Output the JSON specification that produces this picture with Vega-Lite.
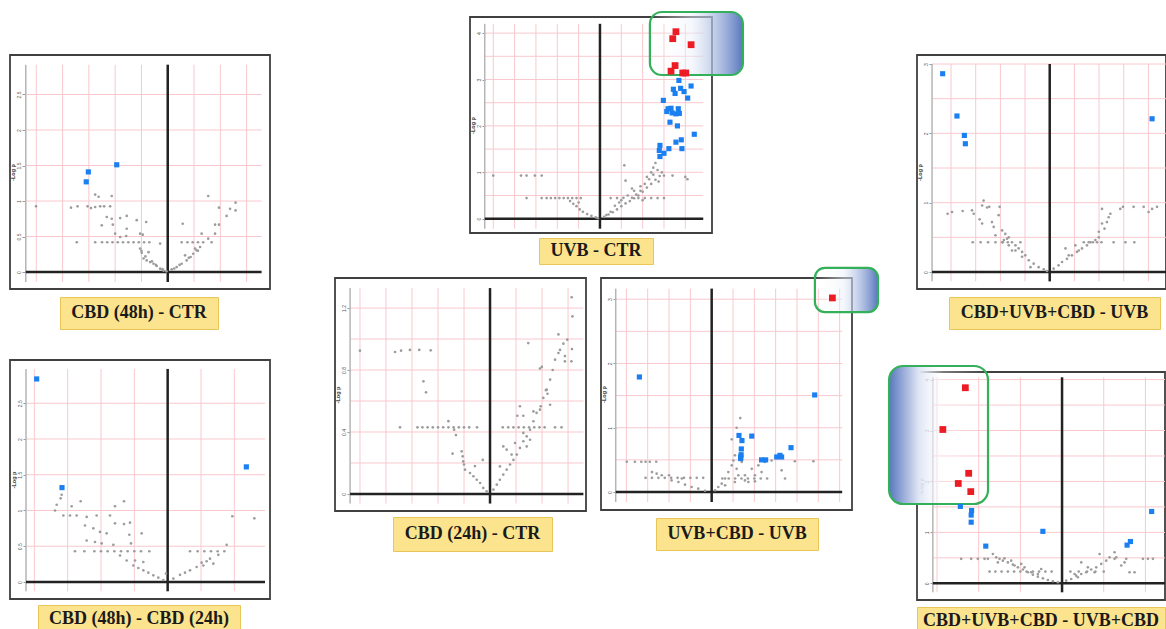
{
"$schema": "https://vega.github.io/schema/vega-lite/v6.json",
"background": "white",
"padding": {"left": 9, "top": 9, "right": 0, "bottom": 0},
"config": {"font": "Liberation Sans"},
"datasets": {
"pA": [{"x":-5.01,"y":0.925,"c":"g"},{"x":-3.68,"y":0.906,"c":"g"},{"x":-3.43,"y":0.925,"c":"g"},{"x":-3.05,"y":0.925,"c":"g"},{"x":-2.92,"y":0.9,"c":"g"},{"x":-2.76,"y":1.09,"c":"g"},{"x":-2.63,"y":1.06,"c":"g"},{"x":-2.76,"y":0.915,"c":"g"},{"x":-2.57,"y":0.925,"c":"g"},{"x":-2.42,"y":0.925,"c":"g"},{"x":-2.19,"y":0.925,"c":"g"},{"x":-2.13,"y":1.07,"c":"g"},{"x":-2.51,"y":0.657,"c":"g"},{"x":-2.32,"y":0.775,"c":"g"},{"x":-2.13,"y":0.75,"c":"g"},{"x":-2.09,"y":0.667,"c":"g"},{"x":-1.81,"y":0.76,"c":"g"},{"x":-1.56,"y":0.79,"c":"g"},{"x":-1.56,"y":0.61,"c":"g"},{"x":-1.18,"y":0.73,"c":"g"},{"x":-0.82,"y":0.704,"c":"g"},{"x":-2.0,"y":0.54,"c":"g"},{"x":-1.81,"y":0.493,"c":"g"},{"x":-1.58,"y":0.507,"c":"g"},{"x":-3.46,"y":0.42,"c":"g"},{"x":-2.76,"y":0.42,"c":"g"},{"x":-2.5,"y":0.42,"c":"g"},{"x":-2.3,"y":0.42,"c":"g"},{"x":-2.1,"y":0.42,"c":"g"},{"x":-1.9,"y":0.42,"c":"g"},{"x":-1.7,"y":0.42,"c":"g"},{"x":-1.5,"y":0.42,"c":"g"},{"x":-1.3,"y":0.42,"c":"g"},{"x":-1.1,"y":0.42,"c":"g"},{"x":-0.9,"y":0.42,"c":"g"},{"x":-0.7,"y":0.42,"c":"g"},{"x":-1.05,"y":0.54,"c":"g"},{"x":-0.95,"y":0.526,"c":"g"},{"x":-1.05,"y":0.33,"c":"g"},{"x":-0.99,"y":0.27,"c":"g"},{"x":-0.92,"y":0.19,"c":"g"},{"x":-0.8,"y":0.164,"c":"g"},{"x":-0.67,"y":0.14,"c":"g"},{"x":-0.54,"y":0.117,"c":"g"},{"x":-0.42,"y":0.085,"c":"g"},{"x":-0.29,"y":0.047,"c":"g"},{"x":-0.16,"y":0.019,"c":"g"},{"x":-0.73,"y":0.28,"c":"g"},{"x":-0.29,"y":0.4,"c":"g"},{"x":-1.0,"y":0.3,"c":"g"},{"x":-0.85,"y":0.22,"c":"g"},{"x":-0.6,"y":0.15,"c":"g"},{"x":-0.45,"y":0.1,"c":"g"},{"x":-0.2,"y":0.04,"c":"g"},{"x":-0.05,"y":0.01,"c":"g"},{"x":0.15,"y":0.038,"c":"g"},{"x":0.34,"y":0.07,"c":"g"},{"x":0.53,"y":0.117,"c":"g"},{"x":0.72,"y":0.164,"c":"g"},{"x":0.87,"y":0.211,"c":"g"},{"x":0.97,"y":0.258,"c":"g"},{"x":1.1,"y":0.305,"c":"g"},{"x":1.23,"y":0.352,"c":"g"},{"x":1.35,"y":0.42,"c":"g"},{"x":1.29,"y":0.54,"c":"g"},{"x":1.54,"y":0.47,"c":"g"},{"x":1.67,"y":0.42,"c":"g"},{"x":0.53,"y":0.42,"c":"g"},{"x":0.75,"y":0.42,"c":"g"},{"x":0.95,"y":0.42,"c":"g"},{"x":1.15,"y":0.42,"c":"g"},{"x":0.57,"y":0.68,"c":"g"},{"x":1.8,"y":0.54,"c":"g"},{"x":1.8,"y":0.667,"c":"g"},{"x":1.95,"y":0.667,"c":"g"},{"x":1.95,"y":0.906,"c":"g"},{"x":1.54,"y":1.07,"c":"g"},{"x":2.24,"y":0.79,"c":"g"},{"x":2.37,"y":0.89,"c":"g"},{"x":2.58,"y":0.868,"c":"g"},{"x":2.58,"y":0.977,"c":"g"},{"x":0.66,"y":0.235,"c":"g"},{"x":1.04,"y":0.33,"c":"g"},{"x":0.25,"y":0.05,"c":"g"},{"x":0.45,"y":0.1,"c":"g"},{"x":0.8,"y":0.2,"c":"g"},{"x":1.15,"y":0.3,"c":"g"},{"x":-3.02,"y":1.41,"c":"b"},{"x":-3.1,"y":1.27,"c":"b"},{"x":-1.94,"y":1.51,"c":"b"}],
"pB": [{"x":-5.0,"y":0.93,"c":"g"},{"x":-3.7,"y":0.93,"c":"g"},{"x":-3.44,"y":0.93,"c":"g"},{"x":-3.05,"y":0.93,"c":"g"},{"x":-2.73,"y":0.93,"c":"g"},{"x":-3.44,"y":0.445,"c":"g"},{"x":-2.73,"y":0.445,"c":"g"},{"x":-2.5,"y":0.445,"c":"g"},{"x":-2.3,"y":0.445,"c":"g"},{"x":-2.1,"y":0.445,"c":"g"},{"x":-1.9,"y":0.445,"c":"g"},{"x":-1.7,"y":0.445,"c":"g"},{"x":-1.5,"y":0.445,"c":"g"},{"x":-1.3,"y":0.445,"c":"g"},{"x":-1.1,"y":0.445,"c":"g"},{"x":-0.9,"y":0.445,"c":"g"},{"x":-1.25,"y":0.32,"c":"g"},{"x":-1.1,"y":0.27,"c":"g"},{"x":-0.95,"y":0.2,"c":"g"},{"x":-0.8,"y":0.15,"c":"g"},{"x":-0.6,"y":0.1,"c":"g"},{"x":-0.4,"y":0.06,"c":"g"},{"x":-0.2,"y":0.03,"c":"g"},{"x":-0.1,"y":0.01,"c":"g"},{"x":-1.4,"y":0.38,"c":"g"},{"x":-1.0,"y":0.35,"c":"g"},{"x":0.2,"y":0.04,"c":"g"},{"x":0.4,"y":0.09,"c":"g"},{"x":0.6,"y":0.14,"c":"g"},{"x":0.8,"y":0.2,"c":"g"},{"x":1.0,"y":0.27,"c":"g"},{"x":1.2,"y":0.33,"c":"g"},{"x":1.4,"y":0.38,"c":"g"},{"x":1.6,"y":0.44,"c":"g"},{"x":1.8,"y":0.5,"c":"g"},{"x":2.0,"y":0.58,"c":"g"},{"x":2.2,"y":0.67,"c":"g"},{"x":2.4,"y":0.75,"c":"g"},{"x":2.6,"y":0.84,"c":"g"},{"x":2.8,"y":0.92,"c":"g"},{"x":2.5,"y":0.95,"c":"g"},{"x":2.7,"y":1.05,"c":"g"},{"x":2.6,"y":1.2,"c":"g"},{"x":2.5,"y":1.1,"c":"g"},{"x":1.1,"y":0.45,"c":"g"},{"x":1.3,"y":0.5,"c":"g"},{"x":1.5,"y":0.45,"c":"g"},{"x":1.7,"y":0.52,"c":"g"},{"x":1.9,"y":0.6,"c":"g"},{"x":2.1,"y":0.75,"c":"g"},{"x":2.3,"y":0.85,"c":"g"},{"x":1.2,"y":0.82,"c":"g"},{"x":1.5,"y":0.65,"c":"g"},{"x":0.9,"y":0.35,"c":"g"},{"x":0.7,"y":0.28,"c":"g"},{"x":1.14,"y":1.15,"c":"g"},{"x":0.5,"y":0.445,"c":"g"},{"x":0.8,"y":0.445,"c":"g"},{"x":1.8,"y":0.445,"c":"g"},{"x":2.1,"y":0.445,"c":"g"},{"x":2.4,"y":0.445,"c":"g"},{"x":2.7,"y":0.445,"c":"g"},{"x":3.0,"y":0.445,"c":"g"},{"x":3.0,"y":0.93,"c":"g"},{"x":3.4,"y":0.93,"c":"g"},{"x":4.1,"y":0.85,"c":"g"},{"x":4.0,"y":0.9,"c":"g"},{"x":2.2,"y":0.9,"c":"g"},{"x":2.4,"y":1.0,"c":"g"},{"x":2.9,"y":1.0,"c":"g"},{"x":2.75,"y":0.8,"c":"g"},{"x":1.9,"y":0.7,"c":"g"},{"x":1.6,"y":0.6,"c":"g"},{"x":1.0,"y":0.4,"c":"g"},{"x":0.5,"y":0.15,"c":"g"},{"x":0.3,"y":0.08,"c":"g"},{"x":2.0,"y":0.4,"c":"g"},{"x":3.7,"y":2.98,"c":"b"},{"x":4.27,"y":2.86,"c":"b"},{"x":3.44,"y":2.79,"c":"b"},{"x":3.78,"y":2.81,"c":"b"},{"x":3.94,"y":2.74,"c":"b"},{"x":3.52,"y":2.7,"c":"b"},{"x":4.11,"y":2.6,"c":"b"},{"x":2.97,"y":2.55,"c":"b"},{"x":3.19,"y":2.37,"c":"b"},{"x":3.33,"y":2.38,"c":"b"},{"x":3.67,"y":2.37,"c":"b"},{"x":3.13,"y":2.31,"c":"b"},{"x":3.38,"y":2.28,"c":"b"},{"x":3.56,"y":2.26,"c":"b"},{"x":3.72,"y":2.27,"c":"b"},{"x":3.28,"y":2.08,"c":"b"},{"x":3.63,"y":2.0,"c":"b"},{"x":4.42,"y":1.82,"c":"b"},{"x":3.81,"y":1.7,"c":"b"},{"x":3.56,"y":1.65,"c":"b"},{"x":2.81,"y":1.58,"c":"b"},{"x":2.78,"y":1.47,"c":"b"},{"x":3.23,"y":1.51,"c":"b"},{"x":3.0,"y":1.41,"c":"b"},{"x":3.84,"y":1.51,"c":"b"},{"x":2.81,"y":1.34,"c":"b"},{"x":3.56,"y":4.03,"c":"r"},{"x":3.41,"y":3.88,"c":"r"},{"x":4.27,"y":3.75,"c":"r"},{"x":3.52,"y":3.3,"c":"r"},{"x":3.33,"y":3.18,"c":"r"},{"x":3.88,"y":3.14,"c":"r"},{"x":4.02,"y":3.14,"c":"r"}],
"pC": [{"x":-5.0,"y":0.925,"c":"g"},{"x":-3.65,"y":0.916,"c":"g"},{"x":-3.42,"y":0.925,"c":"g"},{"x":-3.08,"y":0.93,"c":"g"},{"x":-2.72,"y":0.93,"c":"g"},{"x":-2.28,"y":0.927,"c":"g"},{"x":-2.56,"y":0.727,"c":"g"},{"x":-2.46,"y":0.656,"c":"g"},{"x":-3.46,"y":0.43,"c":"g"},{"x":-2.79,"y":0.43,"c":"g"},{"x":-2.6,"y":0.43,"c":"g"},{"x":-2.4,"y":0.43,"c":"g"},{"x":-2.2,"y":0.43,"c":"g"},{"x":-2.0,"y":0.43,"c":"g"},{"x":-1.8,"y":0.43,"c":"g"},{"x":-1.6,"y":0.43,"c":"g"},{"x":-1.4,"y":0.43,"c":"g"},{"x":-1.2,"y":0.43,"c":"g"},{"x":-1.0,"y":0.43,"c":"g"},{"x":-0.8,"y":0.43,"c":"g"},{"x":-0.5,"y":0.43,"c":"g"},{"x":-1.6,"y":0.47,"c":"g"},{"x":-1.38,"y":0.415,"c":"g"},{"x":-1.31,"y":0.38,"c":"g"},{"x":-1.44,"y":0.26,"c":"g"},{"x":-1.09,"y":0.275,"c":"g"},{"x":-1.05,"y":0.243,"c":"g"},{"x":-1.03,"y":0.21,"c":"g"},{"x":-1.0,"y":0.19,"c":"g"},{"x":-0.96,"y":0.157,"c":"g"},{"x":-0.77,"y":0.135,"c":"g"},{"x":-0.64,"y":0.114,"c":"g"},{"x":-0.51,"y":0.092,"c":"g"},{"x":-0.38,"y":0.071,"c":"g"},{"x":-0.26,"y":0.039,"c":"g"},{"x":-0.13,"y":0.017,"c":"g"},{"x":-0.28,"y":0.22,"c":"g"},{"x":-0.58,"y":0.18,"c":"g"},{"x":0.49,"y":0.43,"c":"g"},{"x":0.7,"y":0.43,"c":"g"},{"x":0.9,"y":0.43,"c":"g"},{"x":1.1,"y":0.43,"c":"g"},{"x":1.3,"y":0.43,"c":"g"},{"x":1.5,"y":0.43,"c":"g"},{"x":1.7,"y":0.43,"c":"g"},{"x":1.9,"y":0.43,"c":"g"},{"x":2.1,"y":0.43,"c":"g"},{"x":2.5,"y":0.43,"c":"g"},{"x":2.75,"y":0.43,"c":"g"},{"x":0.13,"y":0.028,"c":"g"},{"x":0.26,"y":0.06,"c":"g"},{"x":0.38,"y":0.092,"c":"g"},{"x":0.51,"y":0.125,"c":"g"},{"x":0.64,"y":0.157,"c":"g"},{"x":0.77,"y":0.19,"c":"g"},{"x":0.9,"y":0.22,"c":"g"},{"x":1.03,"y":0.254,"c":"g"},{"x":1.15,"y":0.297,"c":"g"},{"x":1.28,"y":0.34,"c":"g"},{"x":1.41,"y":0.372,"c":"g"},{"x":1.54,"y":0.415,"c":"g"},{"x":1.67,"y":0.469,"c":"g"},{"x":1.79,"y":0.523,"c":"g"},{"x":1.95,"y":0.566,"c":"g"},{"x":2.05,"y":0.62,"c":"g"},{"x":2.18,"y":0.673,"c":"g"},{"x":2.31,"y":0.738,"c":"g"},{"x":2.41,"y":0.8,"c":"g"},{"x":2.5,"y":0.867,"c":"g"},{"x":2.63,"y":0.91,"c":"g"},{"x":2.69,"y":0.93,"c":"g"},{"x":2.88,"y":0.89,"c":"g"},{"x":2.97,"y":0.996,"c":"g"},{"x":2.63,"y":1.03,"c":"g"},{"x":2.88,"y":0.856,"c":"g"},{"x":3.13,"y":0.856,"c":"g"},{"x":3.15,"y":0.935,"c":"g"},{"x":3.17,"y":1.146,"c":"g"},{"x":3.14,"y":1.27,"c":"g"},{"x":1.47,"y":0.974,"c":"g"},{"x":1.92,"y":0.81,"c":"g"},{"x":1.99,"y":0.82,"c":"g"},{"x":2.15,"y":0.67,"c":"g"},{"x":2.21,"y":0.647,"c":"g"},{"x":2.31,"y":0.576,"c":"g"},{"x":1.15,"y":0.566,"c":"g"},{"x":1.05,"y":0.505,"c":"g"},{"x":1.28,"y":0.505,"c":"g"},{"x":1.67,"y":0.533,"c":"g"},{"x":1.92,"y":0.544,"c":"g"},{"x":0.51,"y":0.307,"c":"g"},{"x":0.64,"y":0.286,"c":"g"},{"x":0.38,"y":0.178,"c":"g"},{"x":0.83,"y":0.254,"c":"g"},{"x":0.96,"y":0.329,"c":"g"},{"x":1.41,"y":0.307,"c":"g"},{"x":1.54,"y":0.35,"c":"g"},{"x":1.28,"y":0.394,"c":"g"},{"x":2.82,"y":0.97,"c":"g"}],
"pD": [{"x":-3.98,"y":0.47,"c":"g"},{"x":-3.6,"y":0.47,"c":"g"},{"x":-3.3,"y":0.47,"c":"g"},{"x":-3.1,"y":0.47,"c":"g"},{"x":-2.9,"y":0.47,"c":"g"},{"x":-2.6,"y":0.47,"c":"g"},{"x":-2.8,"y":0.31,"c":"g"},{"x":-2.58,"y":0.285,"c":"g"},{"x":-3.1,"y":0.22,"c":"g"},{"x":-2.8,"y":0.22,"c":"g"},{"x":-2.5,"y":0.22,"c":"g"},{"x":-2.2,"y":0.22,"c":"g"},{"x":-1.9,"y":0.22,"c":"g"},{"x":-1.6,"y":0.22,"c":"g"},{"x":-1.3,"y":0.22,"c":"g"},{"x":-1.0,"y":0.22,"c":"g"},{"x":-0.7,"y":0.22,"c":"g"},{"x":-0.4,"y":0.22,"c":"g"},{"x":-2.34,"y":0.26,"c":"g"},{"x":-1.88,"y":0.18,"c":"g"},{"x":-1.56,"y":0.156,"c":"g"},{"x":-1.25,"y":0.114,"c":"g"},{"x":-0.94,"y":0.078,"c":"g"},{"x":-0.63,"y":0.052,"c":"g"},{"x":-0.31,"y":0.02,"c":"g"},{"x":-1.4,"y":0.21,"c":"g"},{"x":-2.0,"y":0.26,"c":"g"},{"x":0.16,"y":0.026,"c":"g"},{"x":0.31,"y":0.078,"c":"g"},{"x":0.47,"y":0.13,"c":"g"},{"x":0.63,"y":0.21,"c":"g"},{"x":0.78,"y":0.31,"c":"g"},{"x":0.94,"y":0.415,"c":"g"},{"x":1.02,"y":0.49,"c":"g"},{"x":1.09,"y":0.57,"c":"g"},{"x":0.94,"y":0.82,"c":"g"},{"x":1.34,"y":1.15,"c":"g"},{"x":1.17,"y":1.0,"c":"g"},{"x":1.17,"y":0.36,"c":"g"},{"x":1.56,"y":0.26,"c":"g"},{"x":1.88,"y":0.36,"c":"g"},{"x":2.19,"y":0.415,"c":"g"},{"x":2.5,"y":0.467,"c":"g"},{"x":2.81,"y":0.49,"c":"g"},{"x":3.28,"y":0.337,"c":"g"},{"x":3.44,"y":0.21,"c":"g"},{"x":3.9,"y":0.478,"c":"g"},{"x":4.77,"y":0.478,"c":"g"},{"x":0.5,"y":0.21,"c":"g"},{"x":0.8,"y":0.21,"c":"g"},{"x":1.1,"y":0.21,"c":"g"},{"x":1.4,"y":0.21,"c":"g"},{"x":1.7,"y":0.21,"c":"g"},{"x":2.0,"y":0.21,"c":"g"},{"x":2.3,"y":0.21,"c":"g"},{"x":2.6,"y":0.21,"c":"g"},{"x":0.63,"y":0.104,"c":"g"},{"x":1.09,"y":0.156,"c":"g"},{"x":1.56,"y":0.18,"c":"g"},{"x":2.03,"y":0.26,"c":"g"},{"x":2.34,"y":0.31,"c":"g"},{"x":1.41,"y":0.467,"c":"g"},{"x":1.25,"y":0.26,"c":"g"},{"x":1.72,"y":0.156,"c":"g"},{"x":2.03,"y":0.166,"c":"g"},{"x":-3.39,"y":1.79,"c":"b"},{"x":4.83,"y":1.51,"c":"b"},{"x":1.28,"y":0.88,"c":"b"},{"x":1.42,"y":0.8,"c":"b"},{"x":1.88,"y":0.87,"c":"b"},{"x":1.39,"y":0.67,"c":"b"},{"x":1.38,"y":0.58,"c":"b"},{"x":1.36,"y":0.52,"c":"b"},{"x":2.34,"y":0.5,"c":"b"},{"x":2.53,"y":0.5,"c":"b"},{"x":3.05,"y":0.545,"c":"b"},{"x":3.2,"y":0.57,"c":"b"},{"x":3.28,"y":0.545,"c":"b"},{"x":3.72,"y":0.69,"c":"b"},{"x":1.36,"y":0.545,"c":"b"},{"x":5.66,"y":3.02,"c":"r"}],
"pE": [{"x":-4.14,"y":0.84,"c":"g"},{"x":-3.96,"y":0.865,"c":"g"},{"x":-3.53,"y":0.88,"c":"g"},{"x":-3.15,"y":0.89,"c":"g"},{"x":-3.08,"y":0.84,"c":"g"},{"x":-2.68,"y":1.03,"c":"g"},{"x":-2.74,"y":0.96,"c":"g"},{"x":-2.54,"y":0.93,"c":"g"},{"x":-2.45,"y":0.94,"c":"g"},{"x":-2.03,"y":0.94,"c":"g"},{"x":-2.84,"y":0.76,"c":"g"},{"x":-2.74,"y":0.7,"c":"g"},{"x":-2.34,"y":0.72,"c":"g"},{"x":-2.27,"y":0.65,"c":"g"},{"x":-2.2,"y":0.53,"c":"g"},{"x":-2.07,"y":0.82,"c":"g"},{"x":-3.12,"y":0.43,"c":"g"},{"x":-2.8,"y":0.43,"c":"g"},{"x":-2.5,"y":0.43,"c":"g"},{"x":-2.2,"y":0.43,"c":"g"},{"x":-1.9,"y":0.43,"c":"g"},{"x":-1.7,"y":0.43,"c":"g"},{"x":-1.93,"y":0.6,"c":"g"},{"x":-1.8,"y":0.55,"c":"g"},{"x":-1.66,"y":0.5,"c":"g"},{"x":-1.53,"y":0.43,"c":"g"},{"x":-1.39,"y":0.385,"c":"g"},{"x":-1.26,"y":0.34,"c":"g"},{"x":-1.12,"y":0.29,"c":"g"},{"x":-0.99,"y":0.24,"c":"g"},{"x":-0.85,"y":0.17,"c":"g"},{"x":-0.65,"y":0.12,"c":"g"},{"x":-0.45,"y":0.07,"c":"g"},{"x":-0.24,"y":0.04,"c":"g"},{"x":-0.11,"y":0.014,"c":"g"},{"x":-1.86,"y":0.46,"c":"g"},{"x":-1.66,"y":0.385,"c":"g"},{"x":-1.39,"y":0.31,"c":"g"},{"x":-1.19,"y":0.43,"c":"g"},{"x":-1.53,"y":0.31,"c":"g"},{"x":-1.12,"y":0.22,"c":"g"},{"x":-0.78,"y":0.07,"c":"g"},{"x":-1.93,"y":0.43,"c":"g"},{"x":-1.73,"y":0.48,"c":"g"},{"x":0.16,"y":0.048,"c":"g"},{"x":0.36,"y":0.096,"c":"g"},{"x":0.5,"y":0.144,"c":"g"},{"x":0.7,"y":0.19,"c":"g"},{"x":0.9,"y":0.24,"c":"g"},{"x":1.1,"y":0.29,"c":"g"},{"x":1.31,"y":0.34,"c":"g"},{"x":1.51,"y":0.385,"c":"g"},{"x":1.65,"y":0.43,"c":"g"},{"x":1.85,"y":0.46,"c":"g"},{"x":1.99,"y":0.5,"c":"g"},{"x":0.64,"y":0.34,"c":"g"},{"x":1.04,"y":0.385,"c":"g"},{"x":1.18,"y":0.31,"c":"g"},{"x":1.38,"y":0.43,"c":"g"},{"x":0.77,"y":0.24,"c":"g"},{"x":1.58,"y":0.43,"c":"g"},{"x":1.75,"y":0.43,"c":"g"},{"x":1.92,"y":0.43,"c":"g"},{"x":2.1,"y":0.43,"c":"g"},{"x":2.12,"y":0.91,"c":"g"},{"x":2.22,"y":0.625,"c":"g"},{"x":2.32,"y":0.72,"c":"g"},{"x":2.39,"y":0.79,"c":"g"},{"x":2.46,"y":0.84,"c":"g"},{"x":2.59,"y":0.43,"c":"g"},{"x":2.86,"y":0.91,"c":"g"},{"x":2.97,"y":0.94,"c":"g"},{"x":3.07,"y":0.43,"c":"g"},{"x":3.4,"y":0.94,"c":"g"},{"x":3.43,"y":0.43,"c":"g"},{"x":3.81,"y":0.94,"c":"g"},{"x":4.01,"y":0.865,"c":"g"},{"x":4.15,"y":0.91,"c":"g"},{"x":4.35,"y":0.94,"c":"g"},{"x":2.12,"y":0.7,"c":"g"},{"x":1.99,"y":0.58,"c":"g"},{"x":-4.34,"y":2.86,"c":"b"},{"x":-3.76,"y":2.25,"c":"b"},{"x":-3.46,"y":1.97,"c":"b"},{"x":-3.42,"y":1.85,"c":"b"},{"x":4.15,"y":2.21,"c":"b"}],
"pF": [{"x":-2.42,"y":0.48,"c":"g"},{"x":-2.18,"y":0.48,"c":"g"},{"x":-2.02,"y":0.48,"c":"g"},{"x":-1.86,"y":0.48,"c":"g"},{"x":-1.78,"y":0.48,"c":"g"},{"x":-1.74,"y":0.23,"c":"g"},{"x":-1.6,"y":0.23,"c":"g"},{"x":-1.45,"y":0.23,"c":"g"},{"x":-1.3,"y":0.23,"c":"g"},{"x":-1.15,"y":0.23,"c":"g"},{"x":-1.0,"y":0.23,"c":"g"},{"x":-0.85,"y":0.23,"c":"g"},{"x":-0.7,"y":0.23,"c":"g"},{"x":-0.55,"y":0.23,"c":"g"},{"x":-0.4,"y":0.23,"c":"g"},{"x":-0.25,"y":0.23,"c":"g"},{"x":-1.66,"y":0.576,"c":"g"},{"x":-1.58,"y":0.51,"c":"g"},{"x":-1.5,"y":0.48,"c":"g"},{"x":-1.42,"y":0.445,"c":"g"},{"x":-1.3,"y":0.41,"c":"g"},{"x":-1.18,"y":0.367,"c":"g"},{"x":-1.06,"y":0.314,"c":"g"},{"x":-0.94,"y":0.27,"c":"g"},{"x":-0.82,"y":0.216,"c":"g"},{"x":-0.7,"y":0.17,"c":"g"},{"x":-0.58,"y":0.13,"c":"g"},{"x":-0.46,"y":0.098,"c":"g"},{"x":-0.34,"y":0.065,"c":"g"},{"x":-0.22,"y":0.04,"c":"g"},{"x":-0.1,"y":0.02,"c":"g"},{"x":-1.54,"y":0.41,"c":"g"},{"x":-1.38,"y":0.49,"c":"g"},{"x":-1.22,"y":0.445,"c":"g"},{"x":-1.14,"y":0.35,"c":"g"},{"x":-0.98,"y":0.38,"c":"g"},{"x":-0.9,"y":0.314,"c":"g"},{"x":-0.74,"y":0.216,"c":"g"},{"x":-0.58,"y":0.183,"c":"g"},{"x":-0.5,"y":0.28,"c":"g"},{"x":0.1,"y":0.052,"c":"g"},{"x":0.22,"y":0.085,"c":"g"},{"x":0.34,"y":0.15,"c":"g"},{"x":0.46,"y":0.183,"c":"g"},{"x":0.58,"y":0.216,"c":"g"},{"x":0.7,"y":0.27,"c":"g"},{"x":0.82,"y":0.314,"c":"g"},{"x":0.94,"y":0.38,"c":"g"},{"x":1.06,"y":0.445,"c":"g"},{"x":1.14,"y":0.51,"c":"g"},{"x":1.26,"y":0.61,"c":"g"},{"x":0.9,"y":0.576,"c":"g"},{"x":0.46,"y":0.41,"c":"g"},{"x":0.62,"y":0.314,"c":"g"},{"x":0.78,"y":0.216,"c":"g"},{"x":0.3,"y":0.183,"c":"g"},{"x":0.38,"y":0.118,"c":"g"},{"x":0.2,"y":0.23,"c":"g"},{"x":0.4,"y":0.23,"c":"g"},{"x":0.6,"y":0.23,"c":"g"},{"x":0.8,"y":0.23,"c":"g"},{"x":1.0,"y":0.23,"c":"g"},{"x":1.26,"y":0.48,"c":"g"},{"x":1.3,"y":0.51,"c":"g"},{"x":1.54,"y":0.48,"c":"g"},{"x":1.62,"y":0.216,"c":"g"},{"x":1.74,"y":0.216,"c":"g"},{"x":1.94,"y":0.48,"c":"g"},{"x":2.06,"y":0.48,"c":"g"},{"x":2.18,"y":0.48,"c":"g"},{"x":1.5,"y":0.41,"c":"g"},{"x":1.42,"y":0.35,"c":"g"},{"x":-2.44,"y":1.51,"c":"b"},{"x":-2.17,"y":1.43,"c":"b"},{"x":-2.18,"y":1.34,"c":"b"},{"x":-2.18,"y":1.2,"c":"b"},{"x":-1.83,"y":0.73,"c":"b"},{"x":-0.46,"y":1.02,"c":"b"},{"x":2.15,"y":1.41,"c":"b"},{"x":1.56,"y":0.75,"c":"b"},{"x":1.64,"y":0.82,"c":"b"},{"x":-2.32,"y":3.84,"c":"r"},{"x":-2.86,"y":3.02,"c":"r"},{"x":-2.24,"y":2.16,"c":"r"},{"x":-2.49,"y":1.96,"c":"r"},{"x":-2.19,"y":1.8,"c":"r"}],
"pG": [{"x":-3.18,"y":1.22,"c":"g"},{"x":-3.21,"y":1.17,"c":"g"},{"x":-3.33,"y":1.08,"c":"g"},{"x":-3.38,"y":1.0,"c":"g"},{"x":-3.13,"y":0.93,"c":"g"},{"x":-2.88,"y":1.06,"c":"g"},{"x":-2.61,"y":1.13,"c":"g"},{"x":-2.93,"y":0.93,"c":"g"},{"x":-2.73,"y":0.93,"c":"g"},{"x":-2.43,"y":0.91,"c":"g"},{"x":-2.13,"y":0.93,"c":"g"},{"x":-1.73,"y":0.93,"c":"g"},{"x":-1.58,"y":1.06,"c":"g"},{"x":-1.31,"y":1.13,"c":"g"},{"x":-2.48,"y":0.79,"c":"g"},{"x":-2.23,"y":0.75,"c":"g"},{"x":-2.03,"y":0.7,"c":"g"},{"x":-1.83,"y":0.68,"c":"g"},{"x":-1.58,"y":0.82,"c":"g"},{"x":-1.31,"y":0.81,"c":"g"},{"x":-1.13,"y":0.83,"c":"g"},{"x":-1.15,"y":0.66,"c":"g"},{"x":-0.78,"y":0.68,"c":"g"},{"x":-2.43,"y":0.58,"c":"g"},{"x":-2.18,"y":0.56,"c":"g"},{"x":-1.98,"y":0.54,"c":"g"},{"x":-1.63,"y":0.52,"c":"g"},{"x":-1.1,"y":0.54,"c":"g"},{"x":-2.78,"y":0.43,"c":"g"},{"x":-2.5,"y":0.43,"c":"g"},{"x":-2.2,"y":0.43,"c":"g"},{"x":-2.0,"y":0.43,"c":"g"},{"x":-1.8,"y":0.43,"c":"g"},{"x":-1.6,"y":0.43,"c":"g"},{"x":-1.4,"y":0.43,"c":"g"},{"x":-1.2,"y":0.43,"c":"g"},{"x":-1.0,"y":0.43,"c":"g"},{"x":-0.8,"y":0.43,"c":"g"},{"x":-0.55,"y":0.43,"c":"g"},{"x":-1.43,"y":0.37,"c":"g"},{"x":-1.23,"y":0.3,"c":"g"},{"x":-1.03,"y":0.23,"c":"g"},{"x":-0.88,"y":0.196,"c":"g"},{"x":-0.73,"y":0.163,"c":"g"},{"x":-0.58,"y":0.13,"c":"g"},{"x":-0.43,"y":0.093,"c":"g"},{"x":-0.28,"y":0.06,"c":"g"},{"x":-0.13,"y":0.028,"c":"g"},{"x":-0.05,"y":0.117,"c":"g"},{"x":-0.73,"y":0.28,"c":"g"},{"x":-0.98,"y":0.3,"c":"g"},{"x":0.17,"y":0.047,"c":"g"},{"x":0.37,"y":0.1,"c":"g"},{"x":0.52,"y":0.13,"c":"g"},{"x":0.67,"y":0.163,"c":"g"},{"x":0.87,"y":0.21,"c":"g"},{"x":1.02,"y":0.27,"c":"g"},{"x":1.17,"y":0.29,"c":"g"},{"x":1.27,"y":0.326,"c":"g"},{"x":1.52,"y":0.38,"c":"g"},{"x":0.67,"y":0.43,"c":"g"},{"x":0.9,"y":0.43,"c":"g"},{"x":1.1,"y":0.43,"c":"g"},{"x":1.3,"y":0.43,"c":"g"},{"x":1.5,"y":0.43,"c":"g"},{"x":1.7,"y":0.43,"c":"g"},{"x":1.77,"y":0.52,"c":"g"},{"x":1.94,"y":0.92,"c":"g"},{"x":2.6,"y":0.89,"c":"g"},{"x":1.07,"y":0.23,"c":"g"},{"x":1.37,"y":0.256,"c":"g"},{"x":-3.93,"y":2.84,"c":"b"},{"x":-3.17,"y":1.32,"c":"b"},{"x":2.36,"y":1.61,"c":"b"}]
},
"spacing": 63,
"hconcat": [
{"spacing": 29, "vconcat": [
  {"width": 1, "height": 8, "view": {"stroke": null}, "data": {"values": []}, "mark": "point"},
  {"spacing": 6, "vconcat": [
    {"width": 260, "height": 234, "view": {"stroke": "#404040", "strokeWidth": 1.8, "fill": "white"},
     "layer": [
      {"data": {"values": [{"v":-5},{"v":-4},{"v":-3},{"v":-2},{"v":-1},{"v":1},{"v":2},{"v":3}]}, "mark": {"type": "rule", "color": "#f8c8ce", "strokeWidth": 1},
       "encoding": {"x": {"field": "v", "type": "quantitative", "scale": {"domain": [-6.0, 3.89], "nice": false, "zero": false}, "axis": null},
        "y": {"datum": -0.14, "type": "quantitative", "scale": {"domain": [-0.239, 3.056], "nice": false, "zero": false}},
        "y2": {"datum": 2.92}}},
      {"data": {"values": [{"v":0.5},{"v":1},{"v":1.5},{"v":2},{"v":2.5}]}, "mark": {"type": "rule", "color": "#f8c8ce", "strokeWidth": 1},
       "encoding": {"y": {"field": "v", "type": "quantitative"}, "x": {"datum": -5.4, "type": "quantitative", "axis": null}, "x2": {"datum": 3.57}}},
      {"data": {"values": [{}]}, "mark": {"type": "rule", "color": "#b5b5b5", "strokeWidth": 1.5},
       "encoding": {"x": {"datum": -5.4, "type": "quantitative", "axis": null}, "y": {"datum": -0.14, "type": "quantitative"}, "y2": {"datum": 2.92}}},
      {"data": {"values": [{}]}, "mark": {"type": "rule", "color": "#222222", "strokeWidth": 2.5},
       "encoding": {"x": {"datum": 0, "type": "quantitative", "axis": null}, "y": {"datum": -0.14, "type": "quantitative"}, "y2": {"datum": 2.92}}},
      {"data": {"values": [{}]}, "mark": {"type": "rule", "color": "#222222", "strokeWidth": 2.5},
       "encoding": {"y": {"datum": 0, "type": "quantitative"}, "x": {"datum": -5.4, "type": "quantitative", "axis": null}, "x2": {"datum": 3.57}}},
      {"data": {"name": "pA"}, "mark": {"type": "point", "filled": true, "opacity": 1, "strokeWidth": 0},
       "encoding": {"x": {"field": "x", "type": "quantitative", "axis": null}, "y": {"field": "y", "type": "quantitative", "axis": {"values": [0,0.5,1,1.5,2,2.5], "format": "~g", "offset": -15, "domain": false, "grid": false, "tickSize": 3, "tickColor": "#9a9a9a", "labelFontSize": 5, "labelAngle": 270, "labelColor": "#555", "labelPadding": 1, "title": "-Log p", "titleFontSize": 5.5, "titlePadding": 1, "titleColor": "#444"}},
        "color": {"field": "c", "type": "nominal", "scale": {"domain": ["g","b","r"], "range": ["#9c9c9c","#1a7ff0","#ec1b24"]}, "legend": null},
        "shape": {"field": "c", "type": "nominal", "scale": {"domain": ["g","b","r"], "range": ["circle","square","square"]}, "legend": null},
        "size": {"field": "c", "type": "ordinal", "scale": {"domain": ["g","b","r"], "range": [7,46,36]}, "legend": null}}}
     ]},
    {"spacing": 0, "hconcat": [
      {"width": 49, "height": 1, "view": {"stroke": null}, "data": {"values": []}, "mark": "point"},
      {"width": 158, "height": 32, "view": {"fill": "#fce48e", "stroke": "#e9c65a", "strokeWidth": 1}, "data": {"values": [{"t": "CBD (48h) - CTR"}]},
       "mark": {"type": "text", "font": "Liberation Serif", "fontWeight": "bold", "fontSize": 18, "color": "#1a1a1a"}, "encoding": {"text": {"field": "t", "type": "nominal"}}}
    ]}
  ]},
  {"spacing": 4, "vconcat": [
    {"width": 260, "height": 239, "view": {"stroke": "#404040", "strokeWidth": 1.8, "fill": "white"},
     "layer": [
      {"data": {"values": [{"v":-4},{"v":-3},{"v":-2},{"v":-1},{"v":1},{"v":2}]}, "mark": {"type": "rule", "color": "#f8c8ce", "strokeWidth": 1},
       "encoding": {"x": {"field": "v", "type": "quantitative", "scale": {"domain": [-4.73, 3.07], "nice": false, "zero": false}, "axis": null},
        "y": {"datum": -0.13, "type": "quantitative", "scale": {"domain": [-0.238, 3.105], "nice": false, "zero": false}},
        "y2": {"datum": 2.98}}},
      {"data": {"values": [{"v":0.5},{"v":1},{"v":1.5},{"v":2},{"v":2.5}]}, "mark": {"type": "rule", "color": "#f8c8ce", "strokeWidth": 1},
       "encoding": {"y": {"field": "v", "type": "quantitative"}, "x": {"datum": -4.25, "type": "quantitative", "axis": null}, "x2": {"datum": 2.92}}},
      {"data": {"values": [{}]}, "mark": {"type": "rule", "color": "#b5b5b5", "strokeWidth": 1.5},
       "encoding": {"x": {"datum": -4.25, "type": "quantitative", "axis": null}, "y": {"datum": -0.13, "type": "quantitative"}, "y2": {"datum": 2.98}}},
      {"data": {"values": [{}]}, "mark": {"type": "rule", "color": "#222222", "strokeWidth": 2.5},
       "encoding": {"x": {"datum": 0, "type": "quantitative", "axis": null}, "y": {"datum": -0.13, "type": "quantitative"}, "y2": {"datum": 2.98}}},
      {"data": {"values": [{}]}, "mark": {"type": "rule", "color": "#222222", "strokeWidth": 2.5},
       "encoding": {"y": {"datum": 0, "type": "quantitative"}, "x": {"datum": -4.25, "type": "quantitative", "axis": null}, "x2": {"datum": 2.92}}},
      {"data": {"name": "pG"}, "mark": {"type": "point", "filled": true, "opacity": 1, "strokeWidth": 0},
       "encoding": {"x": {"field": "x", "type": "quantitative", "axis": null}, "y": {"field": "y", "type": "quantitative", "axis": {"values": [0,0.5,1,1.5,2,2.5], "format": "~g", "offset": -16, "domain": false, "grid": false, "tickSize": 3, "tickColor": "#9a9a9a", "labelFontSize": 5, "labelAngle": 270, "labelColor": "#555", "labelPadding": 1, "title": "-Log p", "titleFontSize": 5.5, "titlePadding": 1, "titleColor": "#444"}},
        "color": {"field": "c", "type": "nominal", "scale": {"domain": ["g","b","r"], "range": ["#9c9c9c","#1a7ff0","#ec1b24"]}, "legend": null},
        "shape": {"field": "c", "type": "nominal", "scale": {"domain": ["g","b","r"], "range": ["circle","square","square"]}, "legend": null},
        "size": {"field": "c", "type": "ordinal", "scale": {"domain": ["g","b","r"], "range": [7,46,36]}, "legend": null}}}
     ]},
    {"spacing": 0, "hconcat": [
      {"width": 27, "height": 1, "view": {"stroke": null}, "data": {"values": []}, "mark": "point"},
      {"width": 202, "height": 25, "view": {"fill": "#fce48e", "stroke": "#e9c65a", "strokeWidth": 1}, "data": {"values": [{"t": "CBD (48h) - CBD (24h)"}]},
       "mark": {"type": "text", "font": "Liberation Serif", "fontWeight": "bold", "fontSize": 18, "color": "#1a1a1a", "dy": 1}, "encoding": {"text": {"field": "t", "type": "nominal"}}}
    ]}
  ]}
]},
{"spacing": 6, "hconcat": [
  {"spacing": 0, "vconcat": [
    {"spacing": 14, "hconcat": [
      {"width": 120, "height": 1, "view": {"stroke": null}, "data": {"values": []}, "mark": "point"},
      {"spacing": 3, "vconcat": [
        {"width": 242, "height": 216, "view": {"stroke": "#404040", "strokeWidth": 1.8, "fill": "white"},
         "layer": [
          {"data": {"values": [{"v":-5},{"v":-4},{"v":-3},{"v":-2},{"v":-1},{"v":1},{"v":2},{"v":3},{"v":4}]}, "mark": {"type": "rule", "color": "#f8c8ce", "strokeWidth": 1},
           "encoding": {"x": {"field": "v", "type": "quantitative", "scale": {"domain": [-6.09, 5.25], "nice": false, "zero": false}, "axis": null},
            "y": {"datum": -0.215, "type": "quantitative", "scale": {"domain": [-0.308, 4.347], "nice": false, "zero": false}},
            "y2": {"datum": 4.2}}},
          {"data": {"values": [{"v":0.5},{"v":1},{"v":1.5},{"v":2},{"v":2.5},{"v":3},{"v":3.5},{"v":4}]}, "mark": {"type": "rule", "color": "#f8c8ce", "strokeWidth": 1},
           "encoding": {"y": {"field": "v", "type": "quantitative"}, "x": {"datum": -5.4, "type": "quantitative", "axis": null}, "x2": {"datum": 4.84}}},
          {"data": {"values": [{}]}, "mark": {"type": "rule", "color": "#b5b5b5", "strokeWidth": 1.5},
           "encoding": {"x": {"datum": -5.4, "type": "quantitative", "axis": null}, "y": {"datum": -0.215, "type": "quantitative"}, "y2": {"datum": 4.2}}},
          {"data": {"values": [{}]}, "mark": {"type": "rule", "color": "#222222", "strokeWidth": 2.5},
           "encoding": {"x": {"datum": 0, "type": "quantitative", "axis": null}, "y": {"datum": -0.215, "type": "quantitative"}, "y2": {"datum": 4.2}}},
          {"data": {"values": [{}]}, "mark": {"type": "rule", "color": "#222222", "strokeWidth": 2.5},
           "encoding": {"y": {"datum": 0, "type": "quantitative"}, "x": {"datum": -5.4, "type": "quantitative", "axis": null}, "x2": {"datum": 4.84}}},
          {"data": {"values": [{}]}, "mark": {"type": "rect", "cornerRadius": 12, "stroke": "#35b05a", "strokeWidth": 2.2,
            "fill": {"gradient": "linear", "x1": 0, "y1": 0, "x2": 1, "y2": 0, "stops": [{"offset": 0, "color": "rgba(255,255,255,0)"}, {"offset": 0.45, "color": "rgba(235,240,250,0.5)"}, {"offset": 1, "color": "#5877bf"}]}},
           "encoding": {"x": {"datum": 2.34, "type": "quantitative", "axis": null}, "x2": {"datum": 6.7}, "y": {"datum": 4.455, "type": "quantitative"}, "y2": {"datum": 3.097}}},
          {"data": {"name": "pB"}, "mark": {"type": "point", "filled": true, "opacity": 1, "strokeWidth": 0},
           "encoding": {"x": {"field": "x", "type": "quantitative", "axis": null}, "y": {"field": "y", "type": "quantitative", "axis": {"values": [0,0.5,1,1.5,2,2.5,3,3.5,4], "format": "~g", "offset": -15, "domain": false, "grid": false, "tickSize": 3, "tickColor": "#9a9a9a", "labelFontSize": 5, "labelAngle": 270, "labelColor": "#555", "labelPadding": 1, "title": "-Log p", "titleFontSize": 5.5, "titlePadding": 1, "titleColor": "#444"}},
            "color": {"field": "c", "type": "nominal", "scale": {"domain": ["g","b","r"], "range": ["#9c9c9c","#1a7ff0","#ec1b24"]}, "legend": null},
            "shape": {"field": "c", "type": "nominal", "scale": {"domain": ["g","b","r"], "range": ["circle","square","square"]}, "legend": null},
            "size": {"field": "c", "type": "ordinal", "scale": {"domain": ["g","b","r"], "range": [7,46,36]}, "legend": null}}}
         ]},
        {"spacing": 0, "hconcat": [
          {"width": 68, "height": 1, "view": {"stroke": null}, "data": {"values": []}, "mark": "point"},
          {"width": 114, "height": 26, "view": {"fill": "#fce48e", "stroke": "#e9c65a", "strokeWidth": 1}, "data": {"values": [{"t": "UVB - CTR"}]},
           "mark": {"type": "text", "font": "Liberation Serif", "fontWeight": "bold", "fontSize": 18, "color": "#1a1a1a"}, "encoding": {"text": {"field": "t", "type": "nominal"}}}
        ]}
      ]}
    ]},
    {"spacing": 13, "hconcat": [
      {"spacing": 4, "vconcat": [
        {"width": 251, "height": 233, "view": {"stroke": "#404040", "strokeWidth": 1.8, "fill": "white"},
         "layer": [
          {"data": {"values": [{"v":-5},{"v":-4},{"v":-3},{"v":-2},{"v":-1},{"v":1},{"v":2},{"v":3}]}, "mark": {"type": "rule", "color": "#f8c8ce", "strokeWidth": 1},
           "encoding": {"x": {"field": "v", "type": "quantitative", "scale": {"domain": [-5.96, 3.69], "nice": false, "zero": false}, "axis": null},
            "y": {"datum": -0.062, "type": "quantitative", "scale": {"domain": [-0.11, 1.394], "nice": false, "zero": false}},
            "y2": {"datum": 1.329}}},
          {"data": {"values": [{"v":0.2},{"v":0.4},{"v":0.6},{"v":0.8},{"v":1.0},{"v":1.2}]}, "mark": {"type": "rule", "color": "#f8c8ce", "strokeWidth": 1},
           "encoding": {"y": {"field": "v", "type": "quantitative"}, "x": {"datum": -5.38, "type": "quantitative", "axis": null}, "x2": {"datum": 3.59}}},
          {"data": {"values": [{}]}, "mark": {"type": "rule", "color": "#b5b5b5", "strokeWidth": 1.5},
           "encoding": {"x": {"datum": -5.38, "type": "quantitative", "axis": null}, "y": {"datum": -0.062, "type": "quantitative"}, "y2": {"datum": 1.329}}},
          {"data": {"values": [{}]}, "mark": {"type": "rule", "color": "#222222", "strokeWidth": 2.5},
           "encoding": {"x": {"datum": 0, "type": "quantitative", "axis": null}, "y": {"datum": -0.062, "type": "quantitative"}, "y2": {"datum": 1.329}}},
          {"data": {"values": [{}]}, "mark": {"type": "rule", "color": "#222222", "strokeWidth": 2.5},
           "encoding": {"y": {"datum": 0, "type": "quantitative"}, "x": {"datum": -5.38, "type": "quantitative", "axis": null}, "x2": {"datum": 3.59}}},
          {"data": {"name": "pC"}, "mark": {"type": "point", "filled": true, "opacity": 1, "strokeWidth": 0},
           "encoding": {"x": {"field": "x", "type": "quantitative", "axis": null}, "y": {"field": "y", "type": "quantitative", "axis": {"values": [0,0.2,0.4,0.6,0.8,1,1.2], "format": "~g", "offset": -15, "domain": false, "grid": false, "tickSize": 3, "tickColor": "#9a9a9a", "labelFontSize": 5, "labelAngle": 270, "labelColor": "#555", "labelPadding": 1, "title": "-Log p", "titleFontSize": 5.5, "titlePadding": 1, "titleColor": "#444"}},
            "color": {"field": "c", "type": "nominal", "scale": {"domain": ["g","b","r"], "range": ["#9c9c9c","#1a7ff0","#ec1b24"]}, "legend": null},
            "shape": {"field": "c", "type": "nominal", "scale": {"domain": ["g","b","r"], "range": ["circle","square","square"]}, "legend": null},
            "size": {"field": "c", "type": "ordinal", "scale": {"domain": ["g","b","r"], "range": [7,46,36]}, "legend": null}}}
         ]},
        {"spacing": 0, "hconcat": [
          {"width": 57, "height": 1, "view": {"stroke": null}, "data": {"values": []}, "mark": "point"},
          {"width": 159, "height": 34, "view": {"fill": "#fce48e", "stroke": "#e9c65a", "strokeWidth": 1}, "data": {"values": [{"t": "CBD (24h) - CTR"}]},
           "mark": {"type": "text", "font": "Liberation Serif", "fontWeight": "bold", "fontSize": 18, "color": "#1a1a1a"}, "encoding": {"text": {"field": "t", "type": "nominal"}}}
        ]}
      ]},
      {"spacing": 6, "vconcat": [
        {"width": 251, "height": 232, "view": {"stroke": "#404040", "strokeWidth": 1.8, "fill": "white"},
         "layer": [
          {"data": {"values": [{"v":-4},{"v":-3},{"v":-2},{"v":-1},{"v":1},{"v":2},{"v":3},{"v":4},{"v":5},{"v":6}]}, "mark": {"type": "rule", "color": "#f8c8ce", "strokeWidth": 1},
           "encoding": {"x": {"field": "v", "type": "quantitative", "scale": {"domain": [-5.19, 6.58], "nice": false, "zero": false}, "axis": null},
            "y": {"datum": -0.156, "type": "quantitative", "scale": {"domain": [-0.28, 3.33], "nice": false, "zero": false}},
            "y2": {"datum": 3.165}}},
          {"data": {"values": [{"v":0.5},{"v":1},{"v":1.5},{"v":2},{"v":2.5},{"v":3}]}, "mark": {"type": "rule", "color": "#f8c8ce", "strokeWidth": 1},
           "encoding": {"y": {"field": "v", "type": "quantitative"}, "x": {"datum": -4.5, "type": "quantitative", "axis": null}, "x2": {"datum": 6.12}}},
          {"data": {"values": [{}]}, "mark": {"type": "rule", "color": "#b5b5b5", "strokeWidth": 1.5},
           "encoding": {"x": {"datum": -4.5, "type": "quantitative", "axis": null}, "y": {"datum": -0.156, "type": "quantitative"}, "y2": {"datum": 3.165}}},
          {"data": {"values": [{}]}, "mark": {"type": "rule", "color": "#222222", "strokeWidth": 2.5},
           "encoding": {"x": {"datum": 0, "type": "quantitative", "axis": null}, "y": {"datum": -0.156, "type": "quantitative"}, "y2": {"datum": 3.165}}},
          {"data": {"values": [{}]}, "mark": {"type": "rule", "color": "#222222", "strokeWidth": 2.5},
           "encoding": {"y": {"datum": 0, "type": "quantitative"}, "x": {"datum": -4.5, "type": "quantitative", "axis": null}, "x2": {"datum": 6.12}}},
          {"data": {"values": [{}]}, "mark": {"type": "rect", "cornerRadius": 10, "stroke": "#35b05a", "strokeWidth": 2.2,
            "fill": {"gradient": "linear", "x1": 0, "y1": 0, "x2": 1, "y2": 0, "stops": [{"offset": 0, "color": "rgba(255,255,255,0)"}, {"offset": 0.45, "color": "rgba(235,240,250,0.5)"}, {"offset": 1, "color": "#5877bf"}]}},
           "encoding": {"x": {"datum": 4.84, "type": "quantitative", "axis": null}, "x2": {"datum": 7.8}, "y": {"datum": 3.487, "type": "quantitative"}, "y2": {"datum": 2.8}}},
          {"data": {"name": "pD"}, "mark": {"type": "point", "filled": true, "opacity": 1, "strokeWidth": 0},
           "encoding": {"x": {"field": "x", "type": "quantitative", "axis": null}, "y": {"field": "y", "type": "quantitative", "axis": {"values": [0,0.5,1,1.5,2,2.5,3], "format": "~g", "offset": -15, "domain": false, "grid": false, "tickSize": 3, "tickColor": "#9a9a9a", "labelFontSize": 5, "labelAngle": 270, "labelColor": "#555", "labelPadding": 1, "title": "-Log p", "titleFontSize": 5.5, "titlePadding": 1, "titleColor": "#444"}},
            "color": {"field": "c", "type": "nominal", "scale": {"domain": ["g","b","r"], "range": ["#9c9c9c","#1a7ff0","#ec1b24"]}, "legend": null},
            "shape": {"field": "c", "type": "nominal", "scale": {"domain": ["g","b","r"], "range": ["circle","square","square"]}, "legend": null},
            "size": {"field": "c", "type": "ordinal", "scale": {"domain": ["g","b","r"], "range": [7,46,36]}, "legend": null}}}
         ]},
        {"spacing": 0, "hconcat": [
          {"width": 54, "height": 1, "view": {"stroke": null}, "data": {"values": []}, "mark": "point"},
          {"width": 162, "height": 32, "view": {"fill": "#fce48e", "stroke": "#e9c65a", "strokeWidth": 1}, "data": {"values": [{"t": "UVB+CBD - UVB"}]},
           "mark": {"type": "text", "font": "Liberation Serif", "fontWeight": "bold", "fontSize": 18, "color": "#1a1a1a"}, "encoding": {"text": {"field": "t", "type": "nominal"}}}
        ]}
      ]}
    ]}
  ]},
  {"spacing": 33, "vconcat": [
    {"width": 1, "height": 4, "view": {"stroke": null}, "data": {"values": []}, "mark": "point"},
    {"spacing": 6, "vconcat": [
      {"width": 249, "height": 234, "view": {"stroke": "#404040", "strokeWidth": 1.8, "fill": "white"},
       "layer": [
        {"data": {"values": [{"v":-4},{"v":-3},{"v":-2},{"v":-1},{"v":1},{"v":2},{"v":3},{"v":4}]}, "mark": {"type": "rule", "color": "#f8c8ce", "strokeWidth": 1},
         "encoding": {"x": {"field": "v", "type": "quantitative", "scale": {"domain": [-5.38, 4.714], "nice": false, "zero": false}, "axis": null},
          "y": {"datum": -0.135, "type": "quantitative", "scale": {"domain": [-0.245, 3.13], "nice": false, "zero": false}},
          "y2": {"datum": 3.0}}},
        {"data": {"values": [{"v":0.5},{"v":1},{"v":1.5},{"v":2},{"v":2.5},{"v":3}]}, "mark": {"type": "rule", "color": "#f8c8ce", "strokeWidth": 1},
         "encoding": {"y": {"field": "v", "type": "quantitative"}, "x": {"datum": -4.77, "type": "quantitative", "axis": null}, "x2": {"datum": 4.714}}},
        {"data": {"values": [{}]}, "mark": {"type": "rule", "color": "#b5b5b5", "strokeWidth": 1.5},
         "encoding": {"x": {"datum": -4.77, "type": "quantitative", "axis": null}, "y": {"datum": -0.135, "type": "quantitative"}, "y2": {"datum": 3.0}}},
        {"data": {"values": [{}]}, "mark": {"type": "rule", "color": "#222222", "strokeWidth": 2.5},
         "encoding": {"x": {"datum": 0, "type": "quantitative", "axis": null}, "y": {"datum": -0.135, "type": "quantitative"}, "y2": {"datum": 3.0}}},
        {"data": {"values": [{}]}, "mark": {"type": "rule", "color": "#222222", "strokeWidth": 2.5},
         "encoding": {"y": {"datum": 0, "type": "quantitative"}, "x": {"datum": -4.77, "type": "quantitative", "axis": null}, "x2": {"datum": 4.714}}},
        {"data": {"name": "pE"}, "mark": {"type": "point", "filled": true, "opacity": 1, "strokeWidth": 0},
         "encoding": {"x": {"field": "x", "type": "quantitative", "axis": null}, "y": {"field": "y", "type": "quantitative", "axis": {"values": [0,0.5,1,1.5,2,2.5,3], "format": "~g", "offset": -15, "domain": false, "grid": false, "tickSize": 3, "tickColor": "#9a9a9a", "labelFontSize": 5, "labelAngle": 270, "labelColor": "#555", "labelPadding": 1, "title": "-Log p", "titleFontSize": 5.5, "titlePadding": 1, "titleColor": "#444"}},
          "color": {"field": "c", "type": "nominal", "scale": {"domain": ["g","b","r"], "range": ["#9c9c9c","#1a7ff0","#ec1b24"]}, "legend": null},
          "shape": {"field": "c", "type": "nominal", "scale": {"domain": ["g","b","r"], "range": ["circle","square","square"]}, "legend": null},
          "size": {"field": "c", "type": "ordinal", "scale": {"domain": ["g","b","r"], "range": [7,46,36]}, "legend": null}}}
       ]},
      {"spacing": 0, "hconcat": [
        {"width": 31, "height": 1, "view": {"stroke": null}, "data": {"values": []}, "mark": "point"},
        {"width": 211, "height": 32, "view": {"fill": "#fce48e", "stroke": "#e9c65a", "strokeWidth": 1}, "data": {"values": [{"t": "CBD+UVB+CBD - UVB"}]},
         "mark": {"type": "text", "font": "Liberation Serif", "fontWeight": "bold", "fontSize": 18, "color": "#1a1a1a"}, "encoding": {"text": {"field": "t", "type": "nominal"}}}
      ]}
    ]},
    {"spacing": 5, "vconcat": [
      {"width": 248, "height": 228, "view": {"stroke": "#404040", "strokeWidth": 1.8, "fill": "white"},
       "layer": [
        {"data": {"values": [{"v":-3},{"v":-2},{"v":-1},{"v":1},{"v":2}]}, "mark": {"type": "rule", "color": "#f8c8ce", "strokeWidth": 1},
         "encoding": {"x": {"field": "v", "type": "quantitative", "scale": {"domain": [-3.48, 2.47], "nice": false, "zero": false}, "axis": null},
          "y": {"datum": -0.177, "type": "quantitative", "scale": {"domain": [-0.328, 4.149], "nice": false, "zero": false}},
          "y2": {"datum": 4.045}}},
        {"data": {"values": [{"v":0.5},{"v":1},{"v":1.5},{"v":2},{"v":2.5},{"v":3},{"v":3.5},{"v":4}]}, "mark": {"type": "rule", "color": "#f8c8ce", "strokeWidth": 1},
         "encoding": {"y": {"field": "v", "type": "quantitative"}, "x": {"datum": -3.1, "type": "quantitative", "axis": null}, "x2": {"datum": 2.47}}},
        {"data": {"values": [{}]}, "mark": {"type": "rule", "color": "#b5b5b5", "strokeWidth": 1.5},
         "encoding": {"x": {"datum": -3.1, "type": "quantitative", "axis": null}, "y": {"datum": -0.177, "type": "quantitative"}, "y2": {"datum": 4.045}}},
        {"data": {"values": [{}]}, "mark": {"type": "rule", "color": "#222222", "strokeWidth": 2.5},
         "encoding": {"x": {"datum": 0, "type": "quantitative", "axis": null}, "y": {"datum": -0.177, "type": "quantitative"}, "y2": {"datum": 4.045}}},
        {"data": {"values": [{}]}, "mark": {"type": "rule", "color": "#222222", "strokeWidth": 2.5},
         "encoding": {"y": {"datum": 0, "type": "quantitative"}, "x": {"datum": -3.1, "type": "quantitative", "axis": null}, "x2": {"datum": 2.47}}},
        {"data": {"values": [{}]}, "mark": {"type": "rect", "cornerRadius": 14, "stroke": "#35b05a", "strokeWidth": 2.2,
          "fill": {"gradient": "linear", "x1": 0, "y1": 0, "x2": 1, "y2": 0, "stops": [{"offset": 0, "color": "#5877bf"}, {"offset": 0.3, "color": "#dfe5f4"}, {"offset": 0.55, "color": "rgba(255,255,255,0.3)"}, {"offset": 1, "color": "rgba(255,255,255,0)"}]}},
         "encoding": {"x": {"datum": -4.15, "type": "quantitative", "axis": null}, "x2": {"datum": -1.776}, "y": {"datum": 4.267, "type": "quantitative"}, "y2": {"datum": 1.557}}},
        {"data": {"name": "pF"}, "mark": {"type": "point", "filled": true, "opacity": 1, "strokeWidth": 0},
         "encoding": {"x": {"field": "x", "type": "quantitative", "axis": null}, "y": {"field": "y", "type": "quantitative", "axis": {"values": [0,0.5,1,1.5,2,2.5,3,3.5,4], "format": "~g", "offset": -16, "domain": false, "grid": false, "tickSize": 3, "tickColor": "#9a9a9a", "labelFontSize": 5, "labelAngle": 270, "labelColor": "#555", "labelPadding": 1, "title": "-Log p", "titleFontSize": 5.5, "titlePadding": 1, "titleColor": "#444"}},
          "color": {"field": "c", "type": "nominal", "scale": {"domain": ["g","b","r"], "range": ["#9c9c9c","#1a7ff0","#ec1b24"]}, "legend": null},
          "shape": {"field": "c", "type": "nominal", "scale": {"domain": ["g","b","r"], "range": ["circle","square","square"]}, "legend": null},
          "size": {"field": "c", "type": "ordinal", "scale": {"domain": ["g","b","r"], "range": [7,46,36]}, "legend": null}}}
       ]},
      {"width": 248, "height": 25, "view": {"fill": "#fce48e", "stroke": "#e9c65a", "strokeWidth": 1}, "data": {"values": [{"t": "CBD+UVB+CBD - UVB+CBD"}]},
       "mark": {"type": "text", "font": "Liberation Serif", "fontWeight": "bold", "fontSize": 18, "color": "#1a1a1a", "dy": 1}, "encoding": {"text": {"field": "t", "type": "nominal"}}}
    ]}
  ]}
]}
]
}
